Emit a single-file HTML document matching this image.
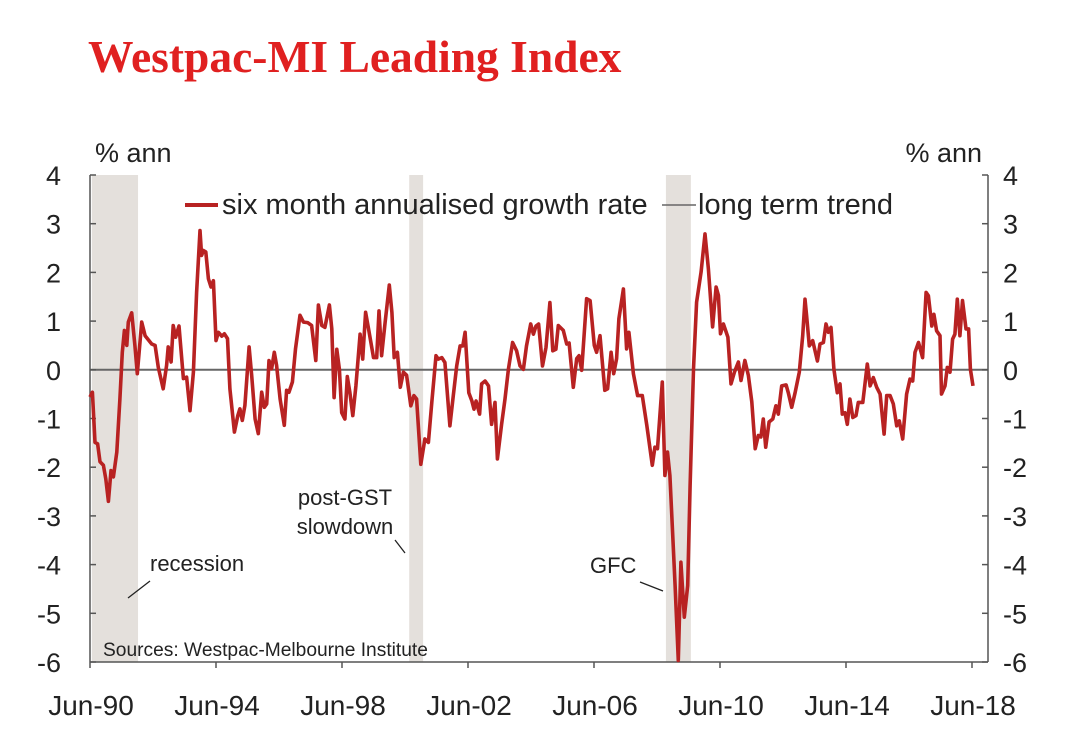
<!DOCTYPE html>
<html><head><meta charset="utf-8"><style>
body{margin:0;background:#fff;width:1085px;height:754px;overflow:hidden}
svg{display:block}
text{font-family:"Liberation Sans",Arial,sans-serif;fill:#222}
</style></head><body>
<svg id="chart" width="1085" height="754">
<text x="88" y="72" style="font-family:'Liberation Serif',serif;font-weight:bold;font-size:45.5px;fill:#e02020">Westpac-MI Leading Index</text>
<g id="shade"></g>
<g id="axes"></g>
<g id="series"></g>
<text x="95" y="162" font-size="27">% ann</text>
<text x="982" y="162" font-size="27" text-anchor="end">% ann</text>
<g>
<line x1="185" y1="205" x2="218" y2="205" stroke="#b82222" stroke-width="4"/>
<text x="222" y="214" font-size="29">six month annualised growth rate</text>
<line x1="662" y1="205" x2="696" y2="205" stroke="#666" stroke-width="1.5"/>
<text x="698" y="214" font-size="29">long term trend</text>
</g>
<text x="150" y="571" font-size="22">recession</text>
<line x1="128" y1="598" x2="150" y2="581" stroke="#222" stroke-width="1.3"/>
<text x="345" y="505" font-size="22" text-anchor="middle">post-GST</text>
<text x="345" y="534" font-size="22" text-anchor="middle">slowdown</text>
<line x1="395" y1="540" x2="405" y2="553" stroke="#222" stroke-width="1.3"/>
<text x="590" y="573" font-size="22">GFC</text>
<line x1="640" y1="582" x2="663" y2="591" stroke="#222" stroke-width="1.3"/>
<text x="103" y="656" font-size="19.2">Sources: Westpac-Melbourne Institute</text>
</svg>
<script>
// months since Jun-90
const months=[0,0.9,1.9,2.9,3.8,5.1,6.0,7.0,8.0,8.9,10.2,11.4,12.3,13.1,14.0,14.6,15.9,17.1,18.0,19.7,21.0,23.5,24.8,26.0,27.9,29.2,29.8,30.9,31.7,32.6,33.9,35.6,36.8,38.1,39.4,40.6,41.9,42.5,43.2,44.1,45.1,46.1,47.0,48.0,48.9,50.2,51.2,52.4,53.3,55.0,56.3,57.1,58.0,59.0,60.6,61.6,62.9,64.1,65.4,66.4,67.3,68.2,69.2,70.2,71.1,72.4,74.0,74.9,75.8,77.1,78.3,80.0,81.3,82.9,84.4,86.0,87.0,88.3,
89.5,91.2,92.1,93.0,94.0,95.0,95.9,97.1,98.0,99.0,100.1,101.3,102.9,103.9,105.0,106.0,108.0,109.2,110.1,111.1,112.4,114.0,115.0,115.9,117.1,118.2,119.4,120.6,122.2,123.4,124.4,126.0,127.6,128.9,130.2,131.8,132.7,134.0,135.2,137.1,138.4,139.7,141.0,142.0,142.9,144.3,145.5,146.3,147.1,148.4,149.2,150.5,151.8,153.0,154.3,155.2,156.8,158.1,159.4,161.0,162.5,163.8,165.1,166.3,167.9,168.9,169.9,170.9,172.4,173.7,175.2,176.3,177.5,
178.4,180.3,181.6,182.5,184.1,185.4,186.3,187.3,189.2,190.5,192.1,193.0,194.3,196.1,197.2,198.5,199.5,200.6,201.5,203.2,204.4,205.3,207.0,208.6,210.4,212.1,214.2,215.2,216.2,218.0,219.0,220.0,220.9,222.9,224.1,225.1,226.4,227.7,228.6,229.9,231.1,232.8,234.3,235.6,237.2,238.5,239.4,240.2,241.3,243.0,244.2,245.5,247.0,248.0,249.5,250.8,252.1,253.4,254.6,255.6,256.5,257.4,258.7,
260.1,261.3,262.2,263.5,265.2,266.0,267.3,268.6,270.2,271.5,272.4,273.0,274.0,275.3,277.1,278.1,279.4,280.4,281.3,282.3,283.4,284.7,285.7,286.6,287.6,288.5,289.5,290.6,291.8,292.7,294.4,296.1,297.2,298.4,299.7,301.0,302.5,303.5,304.8,306.0,307.3,308.3,309.6,311.1,312.4,313.4,314.3,315.6,317.2,318.5,319.4,320.7,321.5,322.5,323.8,324.4,325.7,326.6,327.6,328.6,329.5,330.4,331.4,332.4,333.7,334.7,335.4,336.4];
const growth=[-0.56,-0.46,-1.49,-1.52,-1.89,-1.96,-2.24,-2.70,-2.07,-2.20,-1.69,-0.60,0.36,0.81,0.50,0.98,1.17,0.50,-0.08,0.98,0.70,0.53,0.50,0.05,-0.39,0.09,0.47,0.16,0.91,0.67,0.90,-0.18,-0.15,-0.84,-0.05,1.59,2.86,2.35,2.45,2.42,1.87,1.70,1.83,0.60,0.77,0.69,0.74,0.64,-0.39,-1.28,-0.94,-0.80,-1.04,-0.73,0.47,-0.12,-1.01,-1.31,-0.46,-0.77,-0.70,0.19,0.02,0.36,0.09,-0.60,-1.14,-0.42,-0.46,-0.25,0.43,1.12,0.98,0.97,0.91,0.19,1.33,0.91,
0.87,1.33,0.84,-0.57,0.42,0.01,-0.88,-1.01,-0.14,-0.47,-0.94,-0.33,0.73,0.22,1.18,0.87,0.25,0.25,1.21,0.29,0.97,1.74,1.18,0.25,0.36,-0.36,-0.05,-0.11,-0.74,-0.53,-0.60,-1.94,-1.42,-1.49,-0.67,0.29,0.22,0.25,0.15,-1.15,-0.53,0.08,0.49,0.49,0.77,-0.47,-0.64,-0.81,-0.64,-0.91,-0.29,-0.23,-0.33,-1.12,-0.67,-1.83,-1.12,-0.60,0.01,0.56,0.39,0.08,0.01,0.49,0.94,0.73,0.90,0.94,0.08,0.46,1.38,0.39,0.42,
0.91,0.81,0.53,0.55,-0.36,0.23,0.29,-0.01,1.46,1.42,0.50,0.36,0.70,-0.42,-0.39,0.36,-0.08,0.23,1.05,1.66,0.43,0.77,-0.08,-0.53,-0.53,-1.14,-1.96,-1.59,-1.62,-0.25,-2.17,-1.69,-2.17,-4.43,-5.97,-3.95,-5.08,-4.43,-2.38,0.02,1.39,2.01,2.79,2.07,0.88,1.70,1.53,0.74,0.94,0.67,-0.29,-0.05,0.16,-0.22,0.19,-0.12,-0.66,-1.62,-1.35,-1.38,-1.01,-1.59,-1.07,
-1.01,-0.74,-0.91,-0.33,-0.31,-0.47,-0.77,-0.47,-0.05,0.70,1.45,1.11,0.49,0.60,0.18,0.53,0.56,0.94,0.77,0.87,0.01,-0.47,-0.29,-0.91,-0.88,-1.12,-0.60,-0.98,-0.94,-0.67,-0.67,0.12,-0.33,-0.16,-0.36,-0.50,-1.32,-0.53,-0.53,-0.70,-1.15,-1.05,-1.42,-0.50,-0.19,-0.23,0.36,0.56,0.25,1.59,1.52,0.90,1.14,0.80,0.70,-0.50,-0.33,0.05,-0.05,0.63,0.73,1.45,0.70,1.42,0.84,0.84,0.01,-0.33];
const yTicks=[4,3,2,1,0,-1,-2,-3,-4,-5,-6];
const xTickMonths=[0,48,96,144,192,240,288,336];
const xTickLabels=["Jun-90","Jun-94","Jun-98","Jun-02","Jun-06","Jun-10","Jun-14","Jun-18"];
const shadeStart=[0.7,121.6,219.4];
const shadeEnd=[18.3,126.9,228.9];

const NS="http://www.w3.org/2000/svg";
const X0=90,X1=988,Y0=662,Y1=175;
const xs=m=>X0+m*2.625;
const ys=v=>Y0-(v+6)*(Y0-Y1)/10;
function mk(tag,attrs,parent){const e=document.createElementNS(NS,tag);for(const k in attrs)e.setAttribute(k,attrs[k]);parent.appendChild(e);return e;}
const shade=document.getElementById('shade'),axes=document.getElementById('axes'),series=document.getElementById('series');
shadeStart.forEach((s,i)=>{
  const r=mk('rect',{x:xs(s),y:Y1,width:xs(shadeEnd[i])-xs(s),height:Y0-Y1,fill:'#e4e0dc'},shade);
  
  
});
const z=mk('line',{x1:X0,x2:X1,y1:ys(0),y2:ys(0),stroke:'#666','stroke-width':2},axes);


[[X0,Y1,X0,Y0],[X1,Y1,X1,Y0],[X0,Y0,X1,Y0]].forEach(a=>{
  const l=mk('line',{x1:a[0],y1:a[1],x2:a[2],y2:a[3],stroke:'#555','stroke-width':1.5},axes);
  
  
});
yTicks.forEach(v=>{
  const y=ys(v);
  mk('line',{x1:X0,x2:X0+6,y1:y,y2:y,stroke:'#555','stroke-width':1.5},axes);
  mk('line',{x1:X1-6,x2:X1,y1:y,y2:y,stroke:'#555','stroke-width':1.5},axes);
  const t=mk('text',{x:61,y:y+10,'font-size':27,'text-anchor':'end'},axes);t.textContent=v;
  
  
  const t2=mk('text',{x:1003,y:y+10,'font-size':27},axes);t2.textContent=v;
  
  
});
xTickMonths.forEach((m,i)=>{
  const x=xs(m);
  mk('line',{x1:x,x2:x,y1:Y0,y2:Y0+6,stroke:'#555','stroke-width':1.5},axes);
  const t=mk('text',{x:x+1,y:715,'font-size':28,'text-anchor':'middle'},axes);t.textContent=xTickLabels[i];
  
  
});
const d=months.map((m,i)=>(i?'L':'M')+xs(m).toFixed(1)+','+ys(growth[i]).toFixed(1)).join('');
const p=mk('path',{d:d,fill:'none',stroke:'#b82222','stroke-width':3.6,'stroke-linejoin':'round'},series);


</script>
</body></html>
